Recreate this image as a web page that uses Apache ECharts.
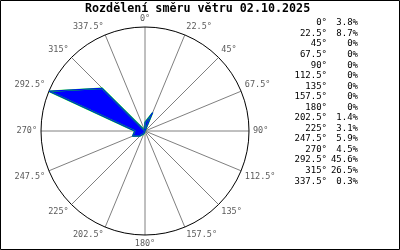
<!DOCTYPE html>
<html>
<head>
<meta charset="utf-8">
<script src="https://cdn.jsdelivr.net/npm/echarts@6/dist/echarts.min.js"></script>
<style>
html,body{margin:0;padding:0;background:#fff;}
#chart{width:400px;height:250px;}
</style>
</head>
<body>
<div id="chart"></div>
<script>
var titleText = 'Rozdělení směru větru 02.10.2025';
var directions = [0, 22.5, 45, 67.5, 90, 112.5, 135, 157.5, 180, 202.5, 225, 247.5, 270, 292.5, 315, 337.5];
var percents = [3.8, 8.7, 0, 0, 0, 0, 0, 0, 0, 1.4, 3.1, 5.9, 4.5, 45.6, 26.5, 0.3];

var FONT = '"DejaVu Sans Mono", "Liberation Mono", monospace';

var lineData = directions.map(function (d, i) { return [percents[i], d]; });
lineData.push([percents[0], 360]);

var graphics = [{
  type: 'rect',
  shape: { x: 0.5, y: 0.5, width: 399, height: 249 },
  style: { fill: 'none', stroke: '#000', lineWidth: 1 },
  silent: true
}];
directions.forEach(function (d, i) {
  var y = 23 + i * 10.55;
  graphics.push({
    type: 'text', x: 327, y: y,
    style: { text: d + '°', font: '9px ' + FONT, fill: '#000', align: 'right', verticalAlign: 'middle' }
  });
  graphics.push({
    type: 'text', x: 358, y: y,
    style: { text: percents[i] + '%', font: '9px ' + FONT, fill: '#000', align: 'right', verticalAlign: 'middle' }
  });
});

var chart = echarts.init(document.getElementById('chart'), null, { renderer: 'canvas' });
chart.setOption({
  animation: false,
  backgroundColor: '#fff',
  title: {
    text: titleText,
    left: 85, top: 3, padding: 0,
    textStyle: { fontFamily: FONT, fontSize: 11.7, fontWeight: 'bold', color: '#000' }
  },
  polar: { center: [145, 131], radius: 104 },
  angleAxis: {
    type: 'value', min: 0, max: 360, interval: 22.5,
    startAngle: 90, clockwise: true,
    axisLine: { show: true, lineStyle: { color: '#000', width: 1 } },
    axisTick: { show: false },
    splitLine: { show: true, lineStyle: { color: '#808080', width: 1 } },
    axisLabel: {
      show: true, margin: 4, color: '#5a5a5a', fontFamily: FONT, fontSize: 8.5,
      formatter: function (v) { return v >= 360 ? '' : v + '°'; }
    }
  },
  radiusAxis: {
    type: 'value', min: 0, max: Math.max.apply(null, percents),
    axisLine: { show: false }, axisTick: { show: false },
    axisLabel: { show: false }, splitLine: { show: false }
  },
  graphic: graphics,
  series: [{
    type: 'line', coordinateSystem: 'polar', data: lineData,
    symbol: 'none', silent: true,
    lineStyle: { color: '#00ff00', width: 1.5 }
  }, {
    type: 'line', coordinateSystem: 'polar', data: lineData,
    symbol: 'none', silent: true,
    lineStyle: { color: '#0000ff', width: 1 },
    areaStyle: { color: '#0000ff', opacity: 1 }
  }]
});
</script>
</body>
</html>
